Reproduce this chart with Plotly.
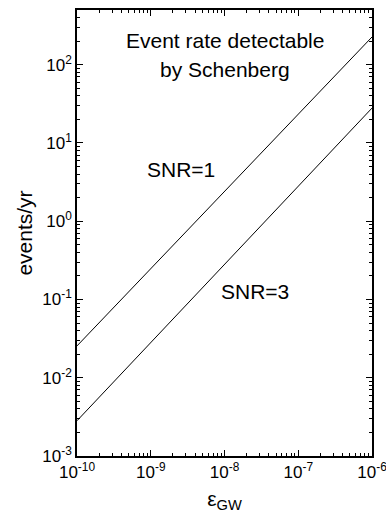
import plotly.graph_objects as go
import numpy as np

# data (straight lines on log-log axes)
eps_gw = [1e-10, 1e-6]
rate_snr1 = [0.0255, 226]
rate_snr3 = [0.00282, 27.9]

x_tickvals = [1e-10, 1e-9, 1e-8, 1e-7, 1e-6]
x_ticktext = ["10<sup>-10</sup>", "10<sup>-9</sup>", "10<sup>-8</sup>", "10<sup>-7</sup>", "10<sup>-6</sup>"]
y_tickvals = [1e-3, 1e-2, 1e-1, 1e0, 1e1, 1e2]
y_ticktext = ["10<sup>-3</sup>", "10<sup>-2</sup>", "10<sup>-1</sup>", "10<sup>0</sup>", "10<sup>1</sup>", "10<sup>2</sup>"]

FONT = "Liberation Sans"

fig = go.Figure()
fig.add_trace(go.Scatter(x=eps_gw, y=rate_snr1, mode="lines",
                         line=dict(color="black", width=1), showlegend=False))
fig.add_trace(go.Scatter(x=eps_gw, y=rate_snr3, mode="lines",
                         line=dict(color="black", width=1), showlegend=False))

axis_common = dict(
    showline=True, linecolor="black", linewidth=1.5, mirror="ticks",
    ticks="inside", ticklen=6, tickwidth=1, tickcolor="black",
    showgrid=False, zeroline=False, ticklabeloverflow="allow",
    tickfont=dict(family=FONT, size=17, color="black"),
    minor=dict(ticks="inside", ticklen=3, tickwidth=1, tickcolor="black",
               dtick="D1", showgrid=False),
)

fig.update_xaxes(type="log", range=[-10, -6], tickmode="array",
                 tickvals=x_tickvals, ticktext=x_ticktext, **axis_common,
                 title=dict(text="ε<sub>GW</sub>", font=dict(family=FONT, size=21, color="black"),
                            standoff=10))
fig.update_yaxes(type="log", range=[-3, np.log10(500)], tickmode="array",
                 tickvals=y_tickvals, ticktext=y_ticktext, **axis_common,
                 title=dict(text="events/yr", font=dict(family=FONT, size=21, color="black"),
                            standoff=4))

ann_font = dict(family=FONT, size=21, color="black")
fig.add_annotation(x=-7.99, y=2.307, text="Event rate detectable", showarrow=False, font=ann_font)
fig.add_annotation(x=-7.99, y=1.936, text="by Schenberg", showarrow=False, font=ann_font)
fig.add_annotation(x=-8.59, y=0.657, text="SNR=1", showarrow=False, font=ann_font)
fig.add_annotation(x=-7.586, y=-0.903, text="SNR=3", showarrow=False, font=ann_font)

fig.update_layout(
    width=386, height=521,
    margin=dict(l=77, r=14, t=10, b=65, autoexpand=False),
    paper_bgcolor="white", plot_bgcolor="white",
    font=dict(family=FONT, color="black"),
)

fig.write_html("out.html", config={"displayModeBar": False},
               post_script="document.body.style.margin='0';")
